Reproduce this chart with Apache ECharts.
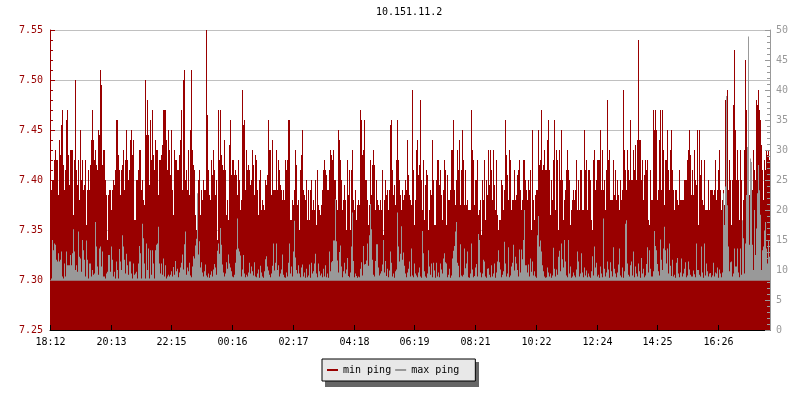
<!DOCTYPE html>
<html><head><meta charset="utf-8">
<style>html,body{margin:0;padding:0;background:#fff}#c{width:800px;height:400px}</style>
<script src="https://cdn.jsdelivr.net/npm/echarts@6/dist/echarts.min.js"></script>
</head><body><div id="c"></div>
<script>
const tickLabels = ['18:12','20:13','22:15','00:16','02:17','04:18','06:19','08:21','10:22','12:24','14:25','16:26'];
const tickIndexes = [0,61,121,182,243,304,364,425,486,547,607,668];
const minPing = [
7.39,7.39,7.40,7.40,7.42,7.43,7.42,7.42,7.385,7.44,7.425,7.455,7.47,7.415,7.39,7.41,7.46,7.47,7.425,7.395,7.43,7.43,7.43,7.365,7.42,7.50,7.41,7.395,7.42,7.38,7.45,7.40,7.42,7.39,7.395,7.42,7.355,7.39,7.41,7.39,7.415,7.44,7.47,7.44,7.42,7.43,7.415,7.41,7.45,7.445,7.51,7.495,7.415,7.43,7.43,7.40,7.385,7.34,7.385,7.39,7.39,7.37,7.39,7.40,7.395,7.41,7.46,7.46,7.425,7.41,7.385,7.41,7.415,7.43,7.39,7.42,7.45,7.42,7.40,7.41,7.44,7.45,7.425,7.44,7.36,7.36,7.40,7.40,7.41,7.43,7.43,7.39,7.40,7.38,7.375,7.50,7.445,7.48,7.445,7.395,7.46,7.42,7.47,7.425,7.41,7.44,7.43,7.43,7.385,7.42,7.42,7.425,7.435,7.47,7.47,7.47,7.44,7.41,7.45,7.43,
7.405,7.45,7.39,7.365,7.43,7.42,7.42,7.41,7.41,7.425,7.44,7.47,7.39,7.50,7.51,7.40,7.41,7.39,7.43,7.385,7.45,7.51,7.43,7.415,7.41,7.365,7.35,7.36,7.40,7.41,7.365,7.39,7.38,7.40,7.39,7.39,7.55,7.465,7.41,7.385,7.38,7.42,7.405,7.43,7.41,7.385,7.40,7.34,7.47,7.42,7.47,7.425,7.415,7.41,7.44,7.41,7.365,7.38,7.36,7.435,7.46,7.405,7.42,7.42,7.405,7.41,7.405,7.385,7.42,7.40,7.37,7.38,7.49,7.455,7.46,7.39,7.43,7.41,7.415,7.41,7.395,7.40,7.43,7.415,7.385,7.425,7.42,7.39,7.365,7.40,7.41,7.37,7.38,7.375,7.37,7.40,7.395,7.405,7.46,7.43,7.43,7.385,7.44,7.39,7.39,7.39,7.43,7.39,7.42,7.41,7.395,7.39,7.38,7.39,7.38,7.42,7.41,7.42,7.46,7.46,
7.36,7.36,7.38,7.375,7.39,7.43,7.415,7.375,7.38,7.35,7.41,7.425,7.45,7.39,7.385,7.38,7.40,7.36,7.39,7.36,7.39,7.40,7.37,7.38,7.37,7.40,7.355,7.41,7.375,7.37,7.365,7.375,7.39,7.41,7.42,7.41,7.405,7.39,7.39,7.41,7.43,7.425,7.42,7.43,7.40,7.40,7.38,7.37,7.45,7.44,7.42,7.40,7.37,7.38,7.395,7.38,7.35,7.42,7.385,7.41,7.35,7.41,7.43,7.38,7.37,7.39,7.36,7.375,7.38,7.375,7.47,7.46,7.425,7.43,7.46,7.40,7.40,7.38,7.355,7.375,7.42,7.385,7.415,7.43,7.415,7.37,7.40,7.38,7.375,7.37,7.38,7.37,7.41,7.345,7.38,7.40,7.385,7.39,7.37,7.39,7.455,7.46,7.41,7.385,7.395,7.375,7.42,7.46,7.42,7.40,7.385,7.37,7.39,7.38,7.385,7.40,7.39,7.44,7.405,7.385,
7.38,7.375,7.49,7.41,7.355,7.38,7.43,7.44,7.405,7.415,7.48,7.40,7.37,7.42,7.36,7.395,7.41,7.405,7.35,7.37,7.39,7.385,7.44,7.40,7.355,7.355,7.40,7.42,7.42,7.395,7.41,7.385,7.36,7.39,7.42,7.41,7.355,7.405,7.38,7.38,7.39,7.43,7.43,7.46,7.39,7.375,7.40,7.43,7.41,7.44,7.375,7.41,7.45,7.42,7.375,7.41,7.375,7.38,7.37,7.37,7.37,7.47,7.43,7.42,7.375,7.40,7.40,7.42,7.365,7.37,7.38,7.345,7.40,7.38,7.42,7.36,7.40,7.385,7.43,7.395,7.43,7.41,7.38,7.43,7.395,7.37,7.42,7.365,7.35,7.36,7.36,7.40,7.395,7.37,7.39,7.46,7.425,7.405,7.38,7.43,7.42,7.37,7.38,7.38,7.41,7.38,7.385,7.405,7.41,7.42,7.39,7.37,7.38,7.42,7.42,7.40,7.39,7.38,7.40,7.39,
7.41,7.35,7.45,7.38,7.36,7.385,7.39,7.39,7.45,7.415,7.42,7.47,7.41,7.415,7.43,7.41,7.41,7.44,7.46,7.41,7.365,7.40,7.38,7.42,7.46,7.37,7.43,7.42,7.35,7.43,7.40,7.45,7.40,7.36,7.38,7.39,7.41,7.43,7.41,7.40,7.355,7.37,7.38,7.39,7.38,7.39,7.42,7.37,7.40,7.37,7.41,7.41,7.37,7.37,7.45,7.41,7.42,7.37,7.41,7.41,7.40,7.36,7.35,7.42,7.43,7.39,7.40,7.42,7.42,7.42,7.45,7.39,7.43,7.39,7.40,7.37,7.41,7.48,7.42,7.43,7.38,7.38,7.38,7.42,7.385,7.41,7.38,7.40,7.385,7.37,7.40,7.38,7.39,7.49,7.43,7.41,7.39,7.43,7.41,7.40,7.46,7.40,7.40,7.43,7.41,7.435,7.40,7.44,7.54,7.44,7.44,7.40,7.42,7.38,7.405,7.42,7.41,7.42,7.36,7.355,
7.41,7.38,7.38,7.47,7.45,7.47,7.45,7.38,7.39,7.44,7.47,7.39,7.47,7.43,7.375,7.42,7.42,7.45,7.41,7.39,7.43,7.45,7.41,7.39,7.37,7.39,7.39,7.38,7.375,7.41,7.38,7.38,7.38,7.38,7.40,7.40,7.40,7.42,7.43,7.45,7.425,7.385,7.41,7.385,7.43,7.40,7.395,7.45,7.355,7.45,7.405,7.42,7.38,7.375,7.42,7.37,7.37,7.37,7.40,7.37,7.39,7.39,7.39,7.385,7.39,7.42,7.38,7.39,7.41,7.43,7.39,7.37,7.38,7.39,7.375,7.48,7.425,7.49,7.39,7.42,7.40,7.355,7.40,7.475,7.53,7.45,7.40,7.43,7.40,7.36,7.43,7.40,7.35,7.38,7.43,7.52,7.47,7.43,7.44,7.385,7.42,7.41,7.39,7.43,7.41,7.40,7.48,7.475,7.49,7.47,7.46,7.435,7.41,7.38,7.42,7.41,7.43,7.425,7.43,7.42
];
const maxPing = [
8.3,8.6,15,13.3,14.4,14.2,11.7,11.4,12.8,11.4,11.7,13.1,8.9,8.6,11.1,8.9,13.1,10.8,10.8,10.8,12.5,10.8,12.8,16.8,13.1,10,10.8,9.7,16.4,12.2,11.9,9.7,15,13.3,11.7,8.9,14.9,11.7,8.6,11.1,11.1,8.9,10,9.2,9.4,18,13.9,10.6,9.2,13.6,13.9,10.6,13.1,8.9,8.9,8.6,9.4,9.7,12.5,12.5,9.7,13.9,11.7,8.9,9.7,8.6,11.4,10,8.6,13.5,11.4,10,15.8,13.9,11.7,9.4,12.7,10.8,9.2,11.4,11.4,9.4,8.6,11.1,9.2,9.4,9.7,8.6,11.1,14,12.8,8.6,17.7,15.3,11.1,8.6,14.4,10,13.6,8.6,13.3,9.2,13.3,11.1,8.6,13.3,14.2,14.4,17.2,11.1,9.4,11.1,9.2,11.9,8.9,10.8,8.6,8.9,9.2,8.9,
9.2,9.8,8.9,10.5,9.2,11.5,9.8,10.2,8.8,9.6,10.4,11.2,12.6,10.1,14.3,16.4,9.2,10.4,9.8,11.2,9.1,8.8,10.6,12.3,11.9,14.1,15.2,22.8,12.6,14.8,10.4,11.3,9.6,8.9,9.8,10.9,9.1,8.8,9.4,8.7,9.2,9.8,8.9,10.1,11,10.4,9.2,13.2,14.4,12.7,17,14.2,10.9,9.6,8.9,9.4,11.3,10.2,12.6,11.1,10.4,9.8,8.9,8.8,9.2,11.2,13.4,18.6,13.6,13.1,12.4,8.9,10.1,12.5,9.4,8.8,9.2,8.9,9.6,11.2,9.4,10.6,9.8,9.1,11.3,8.9,8.8,9.4,10.1,8.7,10.7,9.6,8.9,8.7,9.8,11.8,12.3,10.6,9.9,9.2,8.8,9.4,10.7,14.4,9.9,11.2,14.4,10,10.8,8.9,9.4,10.1,12.6,9.2,8.8,8.7,9.6,8.9,11.2,14.4,9.4,10.6,8.9,13.1,18.2,12.1,10,9.4,
10.8,9.4,8.8,10.4,10.9,8.9,9.6,8.7,10.2,8.8,9.1,10.9,8.7,11.2,9.4,9.8,11.1,12.7,9.4,8.8,11.1,9.8,9.1,9.4,8.8,10.2,8.9,10.8,8.8,9.4,8.7,13.1,9.8,11.3,11.5,14.9,14.9,21.8,14.8,11.6,9.6,13,14.1,10.6,8.8,9.8,11.2,9.4,10.1,12,9,8.8,9.6,13.9,19.6,11.5,8.8,9.4,9,8.7,8.9,8.8,10.2,11.3,9.1,14,10.9,11,11.6,14.4,10.7,15.8,21,16.8,11.7,9.2,8.9,11.5,14.3,14.3,10.4,9.1,9.4,9.8,10.9,15,9.6,11.5,9,10.2,8.8,9.9,13.1,11.2,8.9,9.4,8.7,9.8,10.1,19.6,13.9,11.4,12.7,17.3,11.7,12.9,10.7,9.4,8.8,9.6,10.2,11.4,8.9,13.6,9.1,8.8,11.1,9.4,
9.1,8.8,9.6,10.4,8.9,8.7,16.5,12.8,9.8,8.9,8.7,9.4,13.3,10.6,9.2,11.1,8.8,11.2,9.9,8.7,11.2,8.9,9.6,8.8,11.1,10.1,9.4,11.9,12.8,11.3,11.1,8.8,9.2,10.2,8.7,9.1,11.9,13.2,14,16.4,18,11.2,10.7,8.8,14.3,9.1,8.9,9.2,13.6,10.3,11.1,13.1,8.8,8.7,9.4,14.4,10.1,8.8,9,10.4,11,8.9,16,15,9.6,8.8,9.4,11.7,11.4,8.9,8.7,10.2,10.3,9.2,8.8,10.8,8.9,9.4,11.1,8.7,9.6,11.4,13.3,11.3,10.1,8.8,9.2,9.8,14.7,11.1,8.9,9.4,13.8,8.8,9.1,10.6,11.2,14.2,9.9,12.2,11.1,10,8.9,13.4,9.6,13.4,11.8,15,20,10.8,10.8,9.6,10.9,8.9,11.9,9.7,
11.4,9.1,9.8,8.9,8.7,15.8,19,13.9,14.9,13.1,10.8,9.8,8.9,8.7,8.8,10.4,9.6,8.9,9.4,8.7,9.1,13.7,10.2,8.9,10.1,9.2,12.2,13.2,9.8,14.4,11.8,10.4,15,11.4,9.1,8.8,15,9.4,10.6,8.7,8.9,9.6,9.1,8.8,10.1,13.1,11.4,8.9,9.4,12.8,9.6,8.8,10.4,9.1,9.9,8.8,9.4,8.9,8.7,9.8,12.3,9.1,13.9,10.4,11.2,8.9,9.2,8.7,10.6,9.4,8.8,18.6,10.2,8.9,9.6,11.4,10.1,8.7,11.3,9.8,8.9,13.8,10.2,9.4,8.8,9.6,10.9,13.6,9.1,8.8,10.4,8.7,9.8,17.7,18.3,11.1,9.2,8.9,10.8,11.4,9.1,13.1,8.8,10.6,9.4,8.9,11.1,9.8,8.7,12,9.4,10.2,8.8,9.1,11,13.8,9.6,13.3,10.2,8.9,
8.9,9.8,16.5,14,13.3,11,9.8,9.1,15.1,11.7,10,13.6,17.2,13.3,11.1,13.6,9.4,14.4,10.7,9,11.7,8.9,9.2,8.7,11.2,12,9.4,8.8,9.6,11.9,8.9,9.4,10.2,11.3,8.8,9.1,11.4,10.1,9.2,8.9,8.9,9.9,9.3,8.8,14.4,10,10,9.2,8.9,13.9,9.6,8.7,14.4,9.1,11.1,9.8,8.9,9.4,9.5,8.8,9.1,11.2,8.9,9.6,9.4,10.4,8.7,10.1,9.4,8.8,9.6,22.8,17.5,23.9,39,20.8,13.9,9.8,11.3,11.4,8.9,9.4,13.6,10.6,10.6,13.6,9.6,8.8,13.6,9.2,18.3,15.3,9.4,14.4,22.5,30.5,48.9,14.2,28.6,28,14.2,10,20,12.5,16.9,22.8,27.5,23.3,19.2,10,13.3,13.9,16.6,18,13.6,11.1,15,12.2
];
const categories = Array.from({length:720},(_,i)=>{const k=tickIndexes.indexOf(i);return k<0?'':tickLabels[k];});
const isTick = i => tickIndexes.indexOf(i) >= 0;
const MONO = '"DejaVu Sans Mono", monospace';
const RED = '#990000', GRAY = '#999999';
const chart = echarts.init(document.getElementById('c'), null, {renderer:'canvas', devicePixelRatio:1});
chart.setOption({
  animation:false,
  backgroundColor:'#ffffff',
  title:{text:'10.151.11.2', left:376, top:4, padding:[3,0,3,0],
    textStyle:{fontFamily:MONO,fontSize:10,fontWeight:'normal',color:'#000'}},
  graphic:[{type:'rect',z:1,silent:true,shape:{x:325,y:362,width:154,height:25},style:{fill:'#666666'}}],
  legend:{left:322,top:359,padding:[6,16,6,5],itemWidth:11,itemHeight:2,itemGap:4,icon:'rect',
    backgroundColor:'#e8e8e8',borderColor:'#000',borderWidth:1,borderRadius:0,z:10,
    data:['min ping','max ping'],
    textStyle:{fontFamily:MONO,fontSize:10,color:'#000'}},
  grid:{left:50,right:30,top:30,bottom:70,containLabel:false},
  xAxis:{type:'category',data:categories,boundaryGap:true,z:10,
    axisLine:{show:true,lineStyle:{color:'#000',width:1}},
    axisTick:{show:true,inside:true,length:5,alignWithLabel:true,interval:isTick,lineStyle:{color:'#000'}},
    axisLabel:{interval:isTick,margin:7,fontFamily:MONO,fontSize:10,color:'#000',hideOverlap:false},
    splitLine:{show:false}},
  yAxis:[
    {type:'value',min:7.25,max:7.55,interval:0.05,position:'left',z:0,
      axisLine:{show:true,onZero:false,lineStyle:{color:RED}},
      axisTick:{show:true,inside:true,length:5,lineStyle:{color:RED}},
      minorTick:{show:true,splitNumber:5,length:3,lineStyle:{color:RED}},
      axisLabel:{margin:7,padding:[2,0,0,0],fontFamily:MONO,fontSize:10,color:RED,formatter:v=>v.toFixed(2)},
      splitLine:{show:true,lineStyle:{color:'#c0c0c0',width:1}}},
    {type:'value',min:0,max:50,interval:5,position:'right',z:10,
      axisLine:{show:true,onZero:false,lineStyle:{color:GRAY}},
      axisTick:{show:true,inside:true,length:5,lineStyle:{color:GRAY}},
      minorTick:{show:true,splitNumber:5,length:3,lineStyle:{color:GRAY}},
      axisLabel:{margin:6,padding:[2,0,0,0],fontFamily:MONO,fontSize:10,color:GRAY},
      splitLine:{show:false}}
  ],
  series:[
    {name:'min ping',type:'bar',yAxisIndex:0,data:minPing,barWidth:1,barGap:'-100%',z:2,
      itemStyle:{color:RED},silent:true},
    {name:'max ping',type:'bar',yAxisIndex:1,data:maxPing,barWidth:1,barGap:'-100%',z:3,
      itemStyle:{color:GRAY},silent:true,
      markArea:{silent:true,z:4,itemStyle:{color:RED,opacity:1},label:{show:false},
        data:[[{yAxis:0},{yAxis:8.2}]]}}
  ]
});
</script></body></html>
